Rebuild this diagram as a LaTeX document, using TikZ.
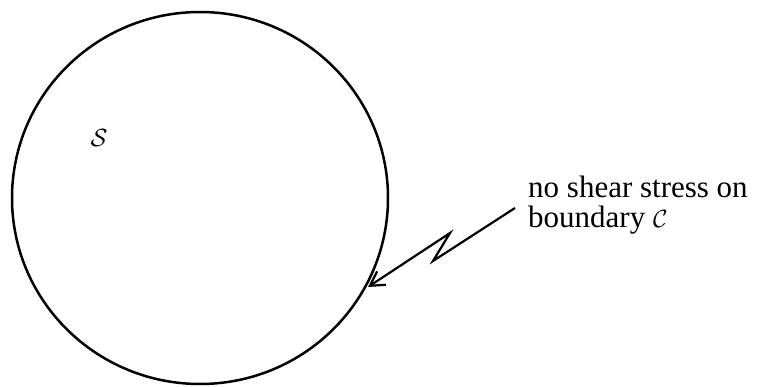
\documentclass[tikz,border=0pt]{standalone}
\usepackage{fontspec}
\setmainfont{Liberation Serif}
\usetikzlibrary{arrows.meta}
\tikzset{
  curve/.style={line width=2.5pt},
  pointer/.style={line width=2.2pt, -{Straight Barb[length=14pt,width=16pt,line width=2.2pt]}},
  lbl/.style={font=\fontsize{31}{30}\selectfont, inner sep=0pt, align=left}
}
\begin{document}
\begin{tikzpicture}[x=1pt,y=-1pt]
\useasboundingbox (0,0) rectangle (760,387);
\draw[curve] (200,198) ellipse [x radius=188, y radius=186];
\node[lbl, anchor=base] (S) at (99,147) {$\mathcal{S}$};
\node[lbl, anchor=base west] (txt) at (528,228) {no shear stress on\\boundary $\mathcal{C}$};
\coordinate (start) at (515,208);
\coordinate (zb) at (433,261);
\coordinate (zt) at (450,233);
\coordinate (tip) at (368,287);
\draw[pointer] (start) -- (zb) -- (zt) -- (tip);
\end{tikzpicture}
\end{document}
